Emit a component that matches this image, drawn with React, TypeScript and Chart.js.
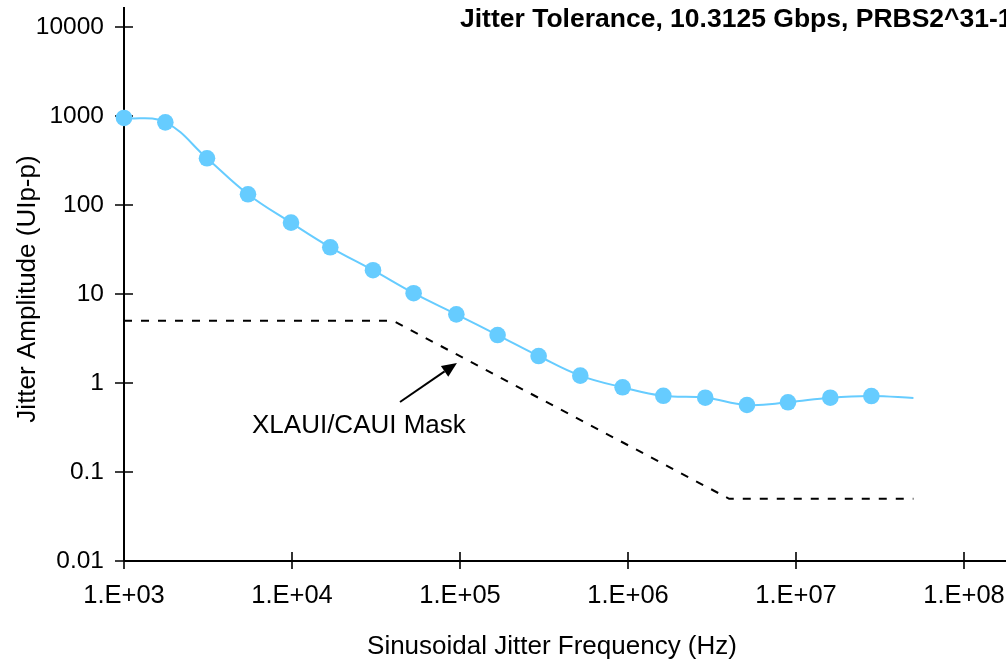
import React, { useEffect, useRef } from "react";
import { Chart, registerables } from "chart.js";

Chart.register(...registerables);

// Measured jitter tolerance (sinusoidal jitter frequency in Hz, amplitude in UIp-p)
const freqHz = [
  1000, 1762, 3119, 5471, 9863, 16900, 30350, 52950, 95100, 167400, 293800,
  520000, 928700, 1623000, 2884000, 5107000, 8960000, 16000000, 28100000,
];
const toleranceUI = [
  950, 849, 335, 132, 63.3, 33.5, 18.5, 10.2, 5.91, 3.46, 2.01, 1.21, 0.895,
  0.718, 0.684, 0.566, 0.607, 0.684, 0.714,
];
// the fitted curve continues past the last measured point
const curveEndHz = 50000000;
const curveEndUI = 0.678;

// XLAUI/CAUI mask
const maskHz = [1000, 40000, 4000000, 50000000];
const maskUI = [5, 5, 0.05, 0.05];

const xTicks = [1e3, 1e4, 1e5, 1e6, 1e7, 1e8];
const yTicks = [0.01, 0.1, 1, 10, 100, 1000, 10000];
const xMax = Math.pow(10, 8.25);
const yMax = Math.pow(10, 4.2247);

const titleText = "Jitter Tolerance, 10.3125 Gbps, PRBS2^31-1";
const xTitle = "Sinusoidal Jitter Frequency (Hz)";
const yTitle = "Jitter Amplitude (UIp-p)";
const maskLabel = "XLAUI/CAUI Mask";
// annotation anchor points, in data coordinates
const maskLabelAt = { x: 5780, y: 0.274 };
const arrowFrom = { x: 43950, y: 0.612 };
const arrowTo = { x: 95900, y: 1.68 };

const FONT = "'Liberation Sans', Arial, Helvetica, sans-serif";
const BLUE = "#66CCFF";

const decorPlugin = {
  id: "decor",
  beforeDatasetsDraw(chart: any) {
    const { ctx, chartArea } = chart;
    const xs = chart.scales.x;
    const ys = chart.scales.y;
    const x0 = xs.getPixelForValue(xTicks[0]);
    const y0 = ys.getPixelForValue(yTicks[0]);
    ctx.save();
    ctx.strokeStyle = "#000";
    ctx.lineWidth = 2;
    ctx.beginPath();
    ctx.moveTo(x0, chartArea.top);
    ctx.lineTo(x0, y0);
    ctx.moveTo(x0, y0);
    ctx.lineTo(chart.width, y0);
    ctx.stroke();
    ctx.lineWidth = 1.6;
    ctx.beginPath();
    for (const v of yTicks) {
      const py = ys.getPixelForValue(v);
      ctx.moveTo(x0 - 9, py);
      ctx.lineTo(x0 + 9, py);
    }
    for (const v of xTicks) {
      const px = xs.getPixelForValue(v);
      ctx.moveTo(px, y0 - 9);
      ctx.lineTo(px, y0 + 8);
    }
    ctx.stroke();
    ctx.restore();
  },
  afterDraw(chart: any) {
    const { ctx } = chart;
    const xs = chart.scales.x;
    const ys = chart.scales.y;
    ctx.save();
    ctx.fillStyle = "#000";
    ctx.textBaseline = "alphabetic";
    // title
    ctx.font = `bold 26.5px ${FONT}`;
    ctx.textAlign = "left";
    ctx.fillText(titleText, 460, 27);
    // x title
    ctx.font = `26px ${FONT}`;
    ctx.textAlign = "center";
    ctx.fillText(xTitle, 552, 654);
    // y title
    ctx.save();
    ctx.translate(35, 289);
    ctx.rotate(-Math.PI / 2);
    ctx.fillText(yTitle, 0, 0);
    ctx.restore();
    // mask label
    ctx.textAlign = "left";
    ctx.fillText(maskLabel, xs.getPixelForValue(maskLabelAt.x), ys.getPixelForValue(maskLabelAt.y));
    // arrow
    const ax = xs.getPixelForValue(arrowFrom.x);
    const ay = ys.getPixelForValue(arrowFrom.y);
    const bx = xs.getPixelForValue(arrowTo.x);
    const by = ys.getPixelForValue(arrowTo.y);
    const ang = Math.atan2(by - ay, bx - ax);
    const headLen = 15;
    const headHalf = 6.5;
    const hx = bx - headLen * Math.cos(ang);
    const hy = by - headLen * Math.sin(ang);
    ctx.strokeStyle = "#000";
    ctx.lineWidth = 2;
    ctx.beginPath();
    ctx.moveTo(ax, ay);
    ctx.lineTo(hx, hy);
    ctx.stroke();
    ctx.beginPath();
    ctx.moveTo(bx, by);
    ctx.lineTo(hx + headHalf * Math.sin(ang), hy - headHalf * Math.cos(ang));
    ctx.lineTo(hx - headHalf * Math.sin(ang), hy + headHalf * Math.cos(ang));
    ctx.closePath();
    ctx.fill();
    ctx.restore();
  },
};

export default function App() {
  const canvasRef = useRef<HTMLCanvasElement | null>(null);

  useEffect(() => {
    document.body.style.margin = "0";
    const canvas = canvasRef.current;
    if (!canvas) return;
    const curveData = freqHz.map((f, i) => ({ x: f, y: toleranceUI[i] }));
    curveData.push({ x: curveEndHz, y: curveEndUI });
    const maskData = maskHz.map((f, i) => ({ x: f, y: maskUI[i] }));

    const chart = new Chart(canvas, {
      type: "scatter",
      data: {
        datasets: [
          {
            label: "Mask",
            data: maskData,
            showLine: true,
            borderColor: "#000",
            borderWidth: 2,
            borderDash: [8, 9],
            pointRadius: 0,
            tension: 0,
            clip: false as any,
          },
          {
            label: "Jitter Tolerance",
            data: curveData,
            showLine: true,
            borderColor: BLUE,
            backgroundColor: BLUE,
            borderWidth: 2,
            tension: 0.4,
            pointRadius: (c: any) => (c.dataIndex < freqHz.length ? 8.3 : 0),
            pointBorderWidth: 0,
            pointBackgroundColor: BLUE,
            clip: false as any,
          },
        ],
      },
      options: {
        animation: false,
        responsive: false,
        maintainAspectRatio: false,
        devicePixelRatio: 1,
        layout: { autoPadding: false, padding: { top: 7, left: 0, right: 0, bottom: 0 } },
        plugins: {
          legend: { display: false },
          tooltip: { enabled: false },
          title: { display: false },
        },
        scales: {
          x: {
            type: "logarithmic",
            position: "bottom",
            min: xTicks[0],
            max: xMax,
            grid: { display: false, drawTicks: false },
            border: { display: false },
            ticks: {
              autoSkip: false,
              maxRotation: 0,
              color: "#000",
              padding: 20,
              font: { family: FONT, size: 25.5 },
              callback: (v: any) => "1.E+0" + Math.round(Math.log10(Number(v))),
            },
            afterBuildTicks: (s: any) => {
              s.ticks = xTicks.map((v) => ({ value: v }));
            },
            afterFit: (s: any) => {
              s.height = 101;
              s.paddingLeft = 0;
              s.paddingRight = 0;
            },
          },
          y: {
            type: "logarithmic",
            position: "left",
            min: yTicks[0],
            max: yMax,
            grid: { display: false, drawTicks: false },
            border: { display: false },
            ticks: {
              autoSkip: false,
              color: "#000",
              padding: 20,
              font: { family: FONT, size: 24.5 },
              callback: (v: any) => String(v),
            },
            afterBuildTicks: (s: any) => {
              s.ticks = yTicks.map((v) => ({ value: v }));
            },
            afterFit: (s: any) => {
              s.width = 124;
              s.paddingTop = 0;
              s.paddingBottom = 0;
            },
          },
        },
      },
      plugins: [decorPlugin],
    });
    return () => chart.destroy();
  }, []);

  return (
    <div style={{ position: "fixed", left: 0, top: 0, width: 1006, height: 662, background: "#fff" }}>
      <canvas ref={canvasRef} width={1006} height={662} style={{ width: 1006, height: 662 }} />
    </div>
  );
}
